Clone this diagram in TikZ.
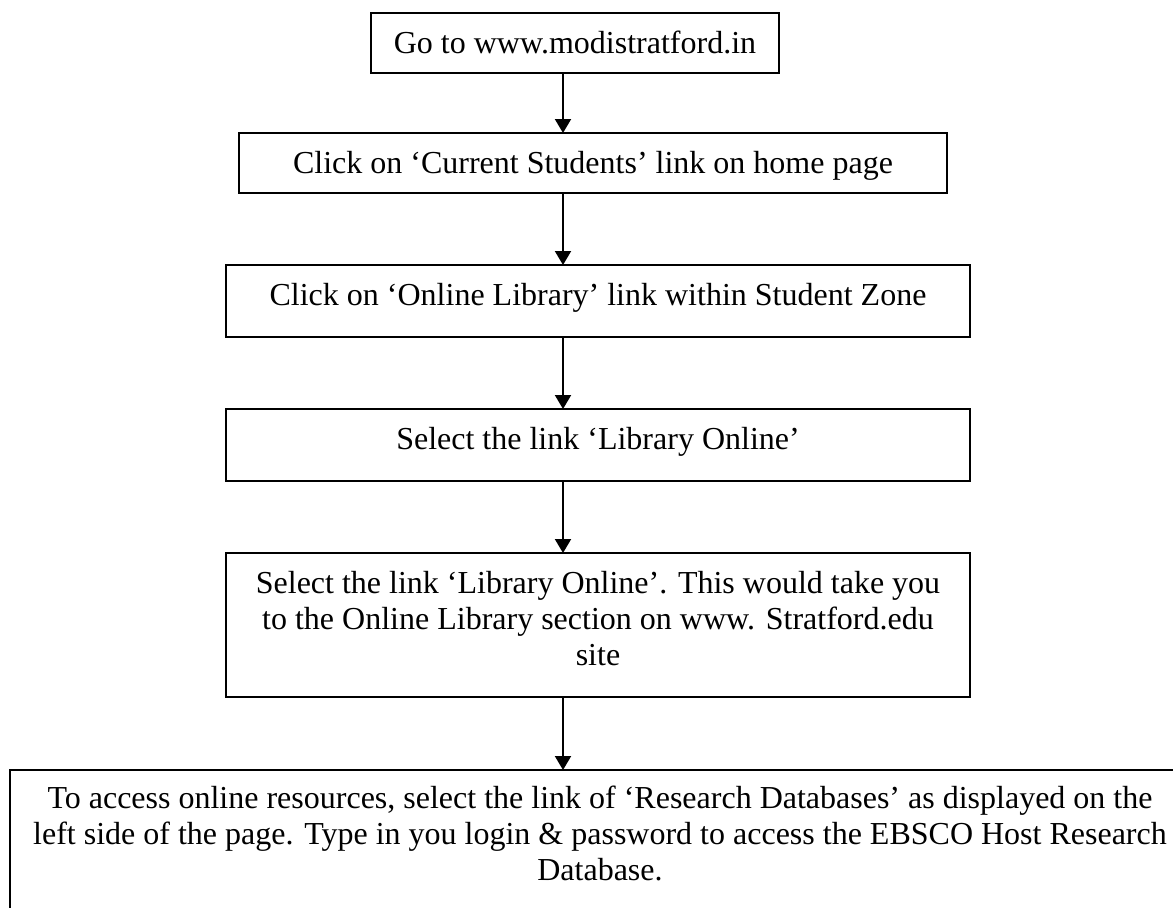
\documentclass[tikz,border=0pt]{standalone}
\usepackage{fontspec}
\setmainfont{Liberation Serif}
\usetikzlibrary{arrows.meta}
\tikzset{
  flowbox/.style={draw, line width=1pt, inner sep=0pt, outer sep=0pt, anchor=north west,
    font=\fontsize{16pt}{18pt}\selectfont},
  flowarrow/.style={line width=1pt, -{Triangle[width=8pt,length=7pt]}}
}
\newcommand{\boxtext}[4][20pt]{\parbox[c][#3][t]{#2}{\centering\rule{0pt}{#1}#4}}
\begin{document}
\begin{tikzpicture}[x=0.5pt, y=-0.5pt]
\useasboundingbox (0,0) rectangle (1173,907);
\clip (0,0) rectangle (1173,907);
\coordinate (ax) at (563,0);
\node[flowbox] (b1) at (371,13) {\boxtext{204pt}{30pt}{Go to www.modistratford.in}};
\node[flowbox] (b2) at (239,133) {\boxtext{354pt}{30pt}{Click on ‘Current Students’ link on home page}};
\node[flowbox] (b3) at (226,265) {\boxtext{372pt}{36pt}{Click on ‘Online Library’ link within Student Zone}};
\node[flowbox] (b4) at (226,409) {\boxtext{372pt}{36pt}{Select the link ‘Library Online’}};
\node[flowbox] (b5) at (226,553) {\boxtext{372pt}{72pt}{Select the link ‘Library Online’. This would take you\\ to the Online Library section on www. Stratford.edu\\ site}};
\node[flowbox] (b6) at (10,770) {\boxtext[19pt]{590pt}{80pt}{To access online resources, select the link of ‘Research Databases’ as displayed on the\\ left side of the page. Type in you login \& password to access the EBSCO Host Research\\ Database.}};
\draw[flowarrow] (b1.south -| ax) -- (b2.north -| ax);
\draw[flowarrow] (b2.south -| ax) -- (b3.north -| ax);
\draw[flowarrow] (b3.south -| ax) -- (b4.north -| ax);
\draw[flowarrow] (b4.south -| ax) -- (b5.north -| ax);
\draw[flowarrow] (b5.south -| ax) -- (b6.north -| ax);
\end{tikzpicture}
\end{document}
